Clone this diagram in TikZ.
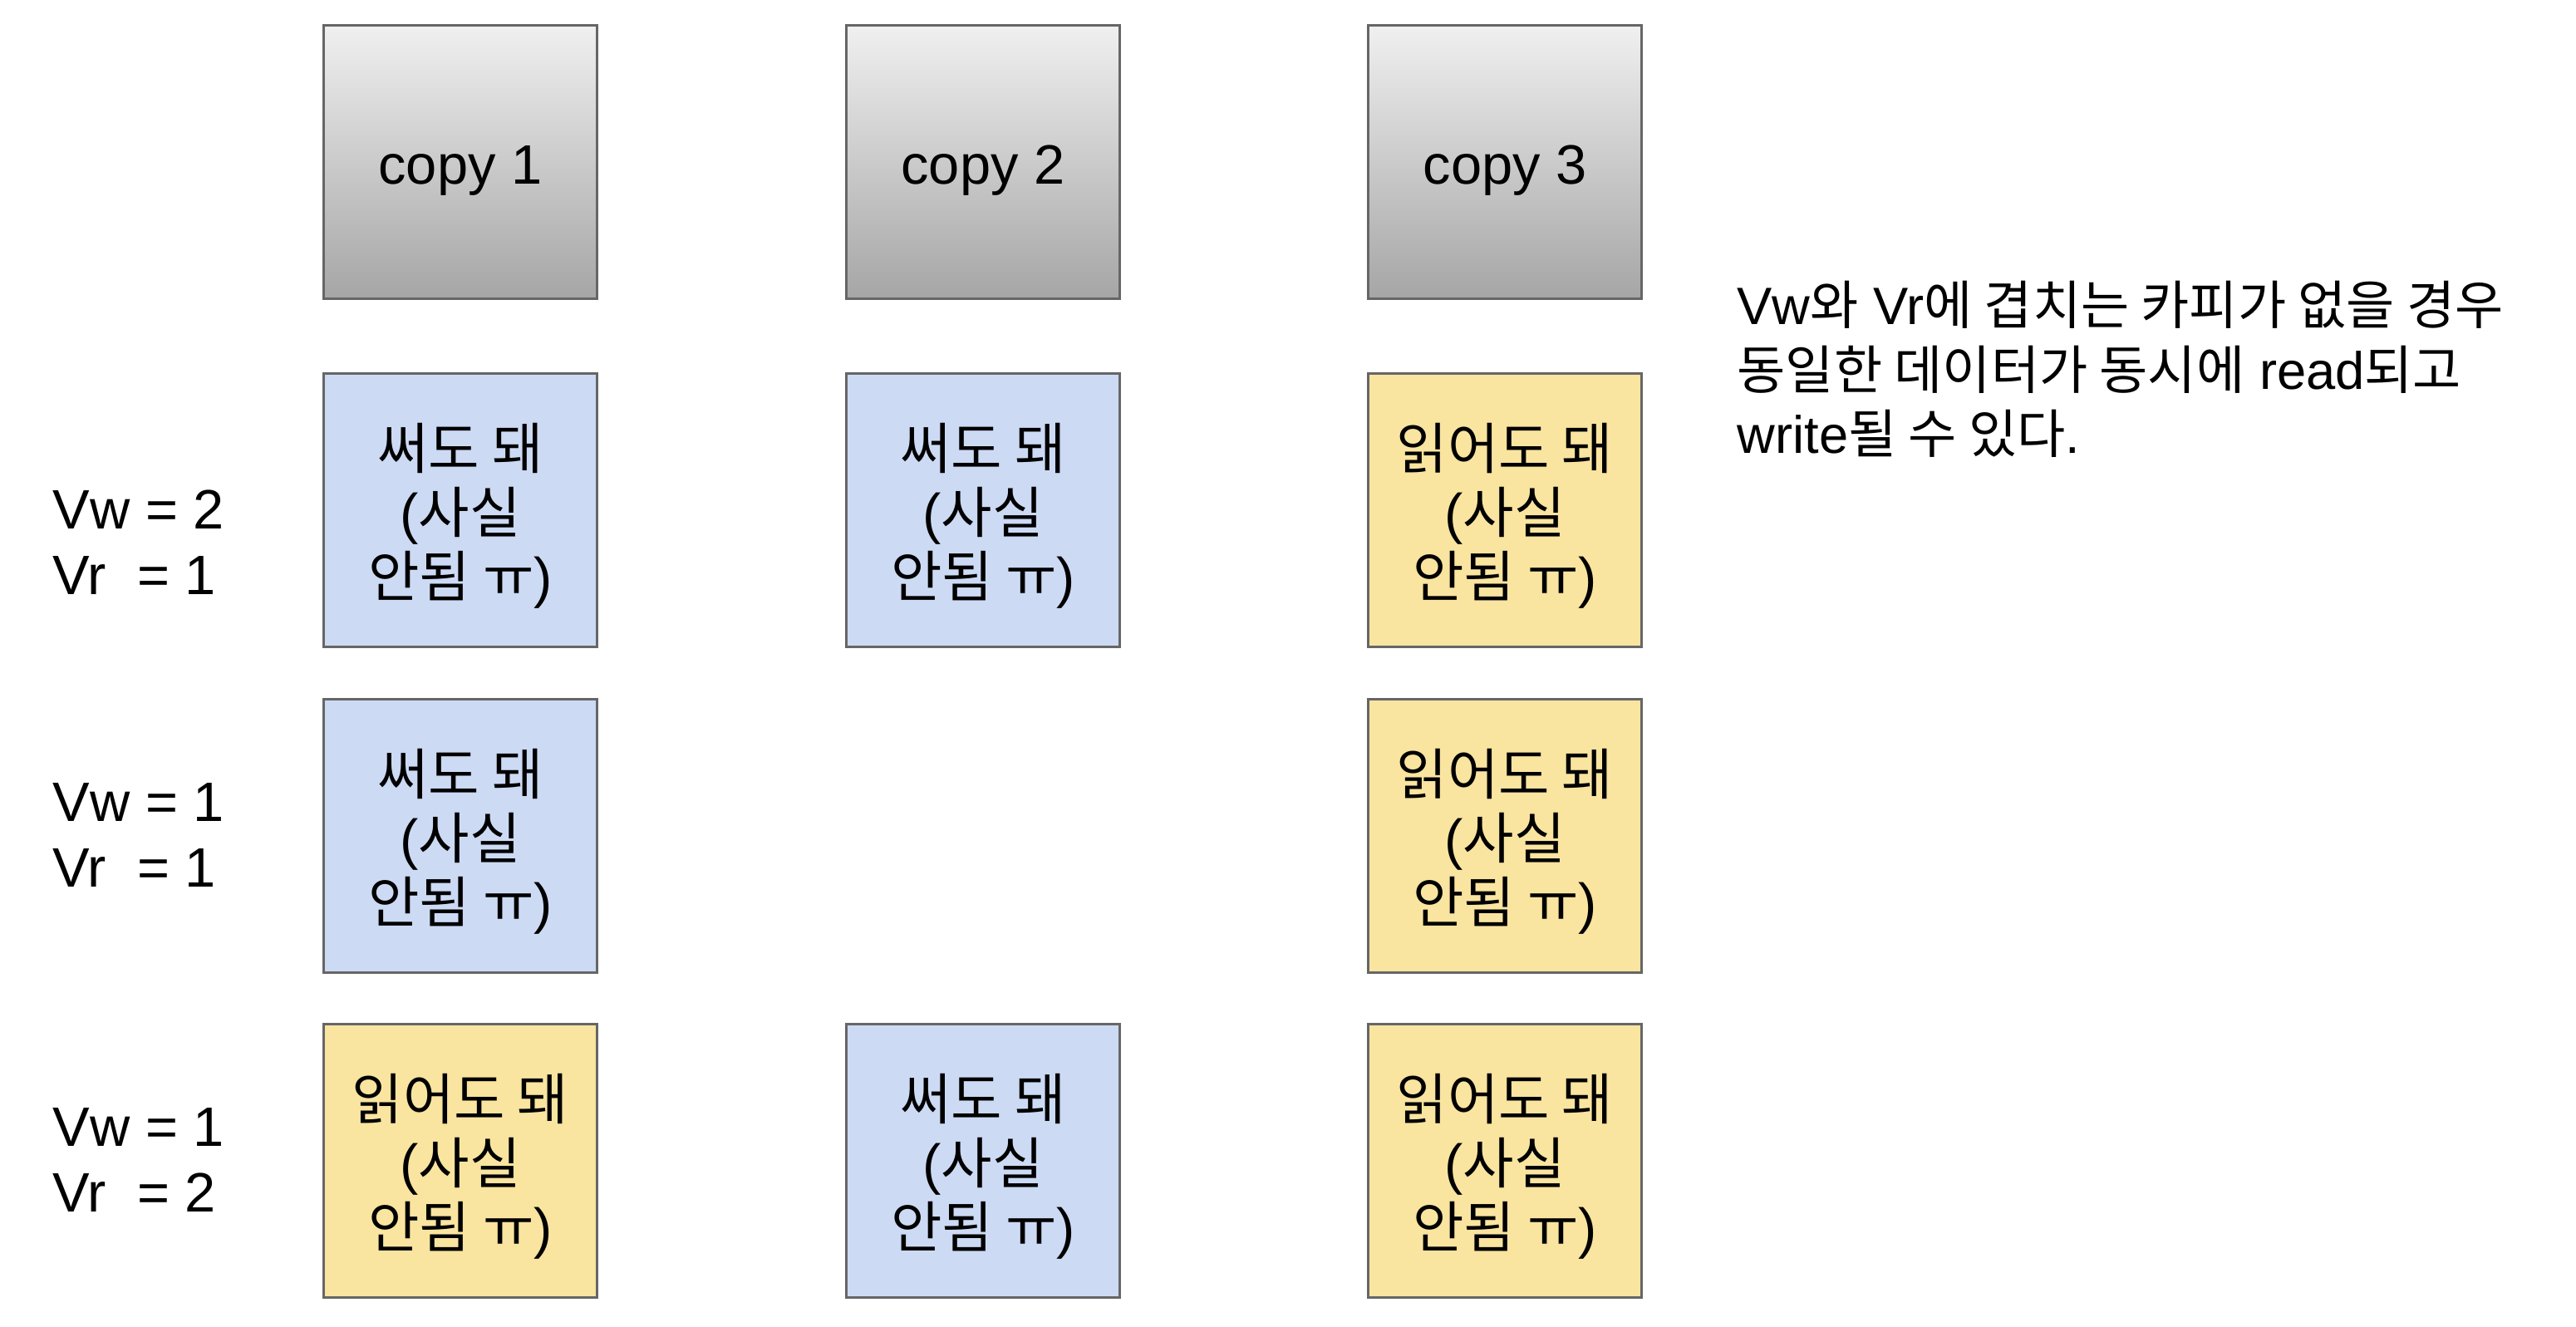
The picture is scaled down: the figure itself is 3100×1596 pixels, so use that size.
\documentclass[tikz,border=0pt]{standalone}
\usepackage{fontspec}
\setmainfont{Liberation Sans}
\newfontfamily\kr{Noto Sans CJK KR}

\definecolor{rand}{HTML}{666666}
\definecolor{schreib}{HTML}{CCDAF4}
\definecolor{lies}{HTML}{F9E4A0}

\tikzset{
  feld/.style={draw=rand, line width=0.85pt, minimum width=3.28cm, minimum height=3.28cm,
    inner sep=0pt, align=center, text depth=0pt, font=\fontsize{19}{21.9}\selectfont},
  kopie/.style={feld, text height=15pt, top color=white!94!black, bottom color=white!65!black},
  wfeld/.style={feld, fill=schreib},
  rfeld/.style={feld, fill=lies},
  vlabel/.style={anchor=base west, align=left, inner sep=0pt, font=\fontsize{19}{22.3}\selectfont}
}

\begin{document}
\begin{tikzpicture}[x=0.01cm, y=-0.01cm]
    \useasboundingbox (0,0) rectangle (3100,1596);
    % Kopien oben:
    \node[kopie] (c1) at (554,195) {copy 1};
    \node[kopie] (c2) at (1183,195) {copy 2};
    \node[kopie] (c3) at (1811,195) {copy 3};
    % Vw = 2, Vr = 1
    \node[vlabel] (l1) at (63,715) {Vw = 2\\Vr~ = 1};
    \node[wfeld] (a1) at (554,614) {{\kr 써도 돼}\\({\kr 사실}\\{\kr 안됨 ㅠ})};
    \node[wfeld] (a2) at (1183,614) {{\kr 써도 돼}\\({\kr 사실}\\{\kr 안됨 ㅠ})};
    \node[rfeld] (a3) at (1811,614) {{\kr 읽어도 돼}\\({\kr 사실}\\{\kr 안됨 ㅠ})};
    % Vw = 1, Vr = 1
    \node[vlabel] (l2) at (63,1067) {Vw = 1\\Vr~ = 1};
    \node[wfeld] (b1) at (554,1006) {{\kr 써도 돼}\\({\kr 사실}\\{\kr 안됨 ㅠ})};
    \node[rfeld] (b3) at (1811,1006) {{\kr 읽어도 돼}\\({\kr 사실}\\{\kr 안됨 ㅠ})};
    % Vw = 1, Vr = 2
    \node[vlabel] (l3) at (63,1458) {Vw = 1\\Vr~ = 2};
    \node[rfeld] (d1) at (554,1397) {{\kr 읽어도 돼}\\({\kr 사실}\\{\kr 안됨 ㅠ})};
    \node[wfeld] (d2) at (1183,1397) {{\kr 써도 돼}\\({\kr 사실}\\{\kr 안됨 ㅠ})};
    \node[rfeld] (d3) at (1811,1397) {{\kr 읽어도 돼}\\({\kr 사실}\\{\kr 안됨 ㅠ})};
    % Hinweis rechts
    \node[vlabel, font=\fontsize{18}{21.9}\selectfont] (hinweis) at (2090,545)
      {Vw{\kr 와} Vr{\kr 에 겹치는 카피가 없을 경우}\\{\kr 동일한 데이터가 동시에} read{\kr 되고}\\write{\kr 될 수 있다}.};
\end{tikzpicture}
\end{document}
